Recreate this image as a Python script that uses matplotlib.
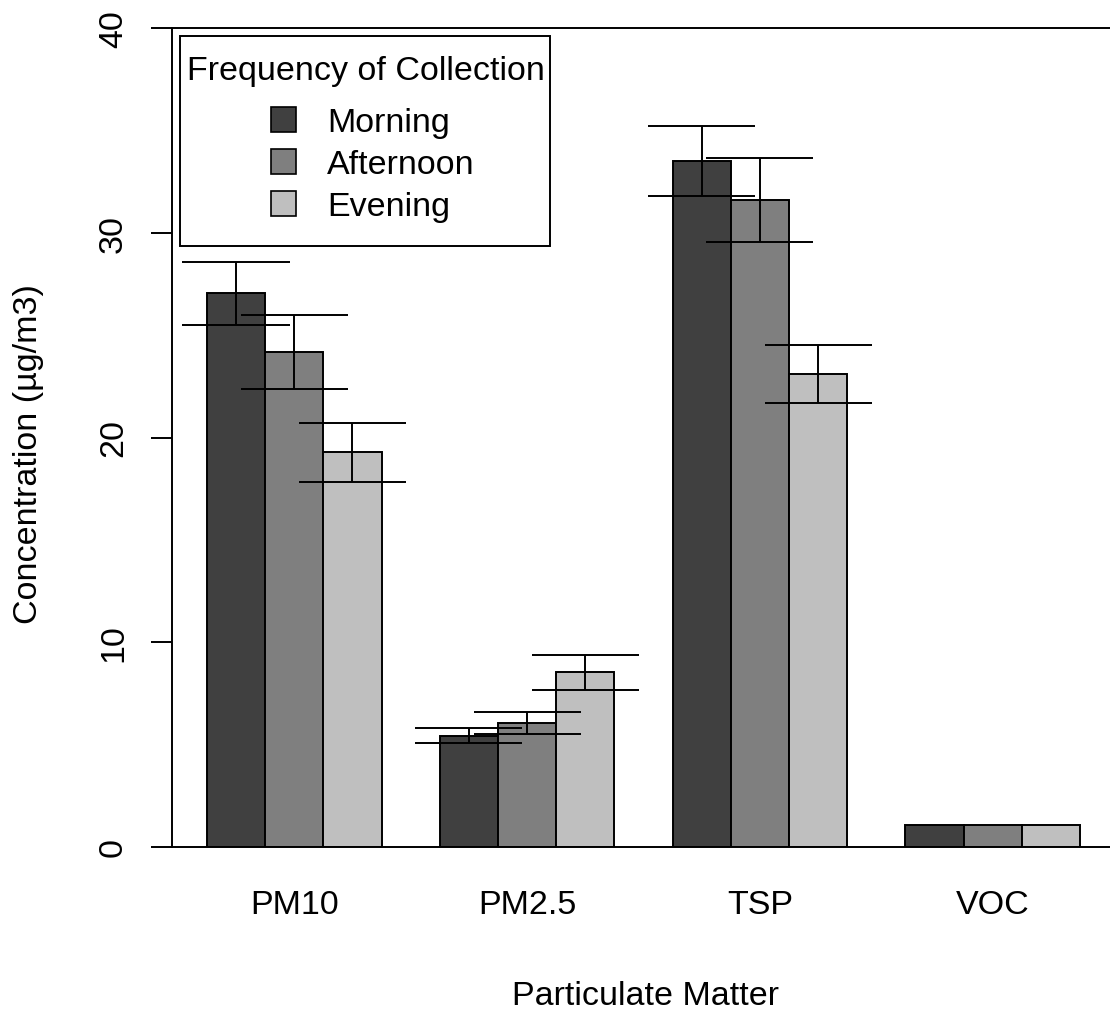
import numpy as np
import matplotlib
matplotlib.use('Agg')
import matplotlib.pyplot as plt
from matplotlib.transforms import Affine2D
from matplotlib.patches import Rectangle

plt.rcParams['font.family'] = ['Liberation Sans', 'DejaVu Sans']

#data
pm = ['PM10', 'PM2.5', 'TSP', 'VOC']
times = ['Morning', 'Afternoon', 'Evening']
morning = [27.04, 5.44, 33.52, 1.07]
afternoon = [24.16, 6.07, 31.60, 1.07]
evening = [19.28, 8.53, 23.10, 1.07]
morning_se = [1.55, 0.37, 1.71, 0.0]
afternoon_se = [1.81, 0.54, 2.06, 0.0]
evening_se = [1.43, 0.86, 1.43, 0.0]

colours = ['#404040', '#7f7f7f', '#bfbfbf']
fs = 24.5
lw = 1.4

W, H = 1110, 1012
fig = plt.figure(figsize=(W/100, H/100), dpi=100)
ax = fig.add_axes([172/W, (H-848)/H, (1115-172)/W, (848-29)/H])
px = Affine2D().scale(1/W, -1/H).translate(0, 1) + fig.transFigure   #image pixel coords

#barplot, beside, one empty bar between groups
x0 = np.arange(len(pm))*4 + 1.5
series = [(morning, morning_se), (afternoon, afternoon_se), (evening, evening_se)]
for k, (vals, se) in enumerate(series):
    xs = x0 + k
    ax.bar(xs, vals, width=1, color=colours[k], edgecolor='black', linewidth=lw, zorder=2)

#error bars drawn after all bars
for k, (vals, se) in enumerate(series):
    for x, v, e in zip(x0 + k, vals, se):
        if e <= 0:
            continue
        ax.vlines(x, v - e, v + e, color='black', lw=lw, zorder=3)
        ax.hlines([v - e, v + e], x - 0.92, x + 0.92, color='black', lw=lw, zorder=3)

ax.set_xlim(0.4, 16.6)
ax.set_ylim(0, 40)
ax.set_yticks([0, 10, 20, 30, 40])
ax.tick_params(axis='y', length=15, width=lw, pad=16, labelsize=fs, labelrotation=90)
for t in ax.get_yticklabels():
    t.set_va('center')
ax.set_xticks(x0 + 1, pm)
ax.tick_params(axis='x', length=0, pad=30, labelsize=fs)
for s in ax.spines.values():
    s.set_linewidth(lw)
    s.set_color('black')

#axis titles
fig.text(37, 454, 'Concentration (µg/m3)', transform=px, rotation=90, rotation_mode='anchor',
         ha='center', va='baseline', fontsize=fs)
fig.text(645, 1005, 'Particulate Matter', transform=px, ha='center', va='baseline', fontsize=fs)

#legend box in R style
fig.add_artist(Rectangle((180, 37), 370, 210, transform=px, fill=False, ec='black', lw=lw))
fig.text(187, 80, 'Frequency of Collection', transform=px, ha='left', va='baseline', fontsize=fs)
for i, lab in enumerate(times):
    cy = 120 + 42*i
    fig.add_artist(Rectangle((271, cy - 12.5), 25, 25, transform=px, fc=colours[i], ec='black', lw=1.2))
    fig.text(327, cy + 12, lab, transform=px, ha='left', va='baseline', fontsize=fs)

fig.savefig('out.png', dpi=100)
